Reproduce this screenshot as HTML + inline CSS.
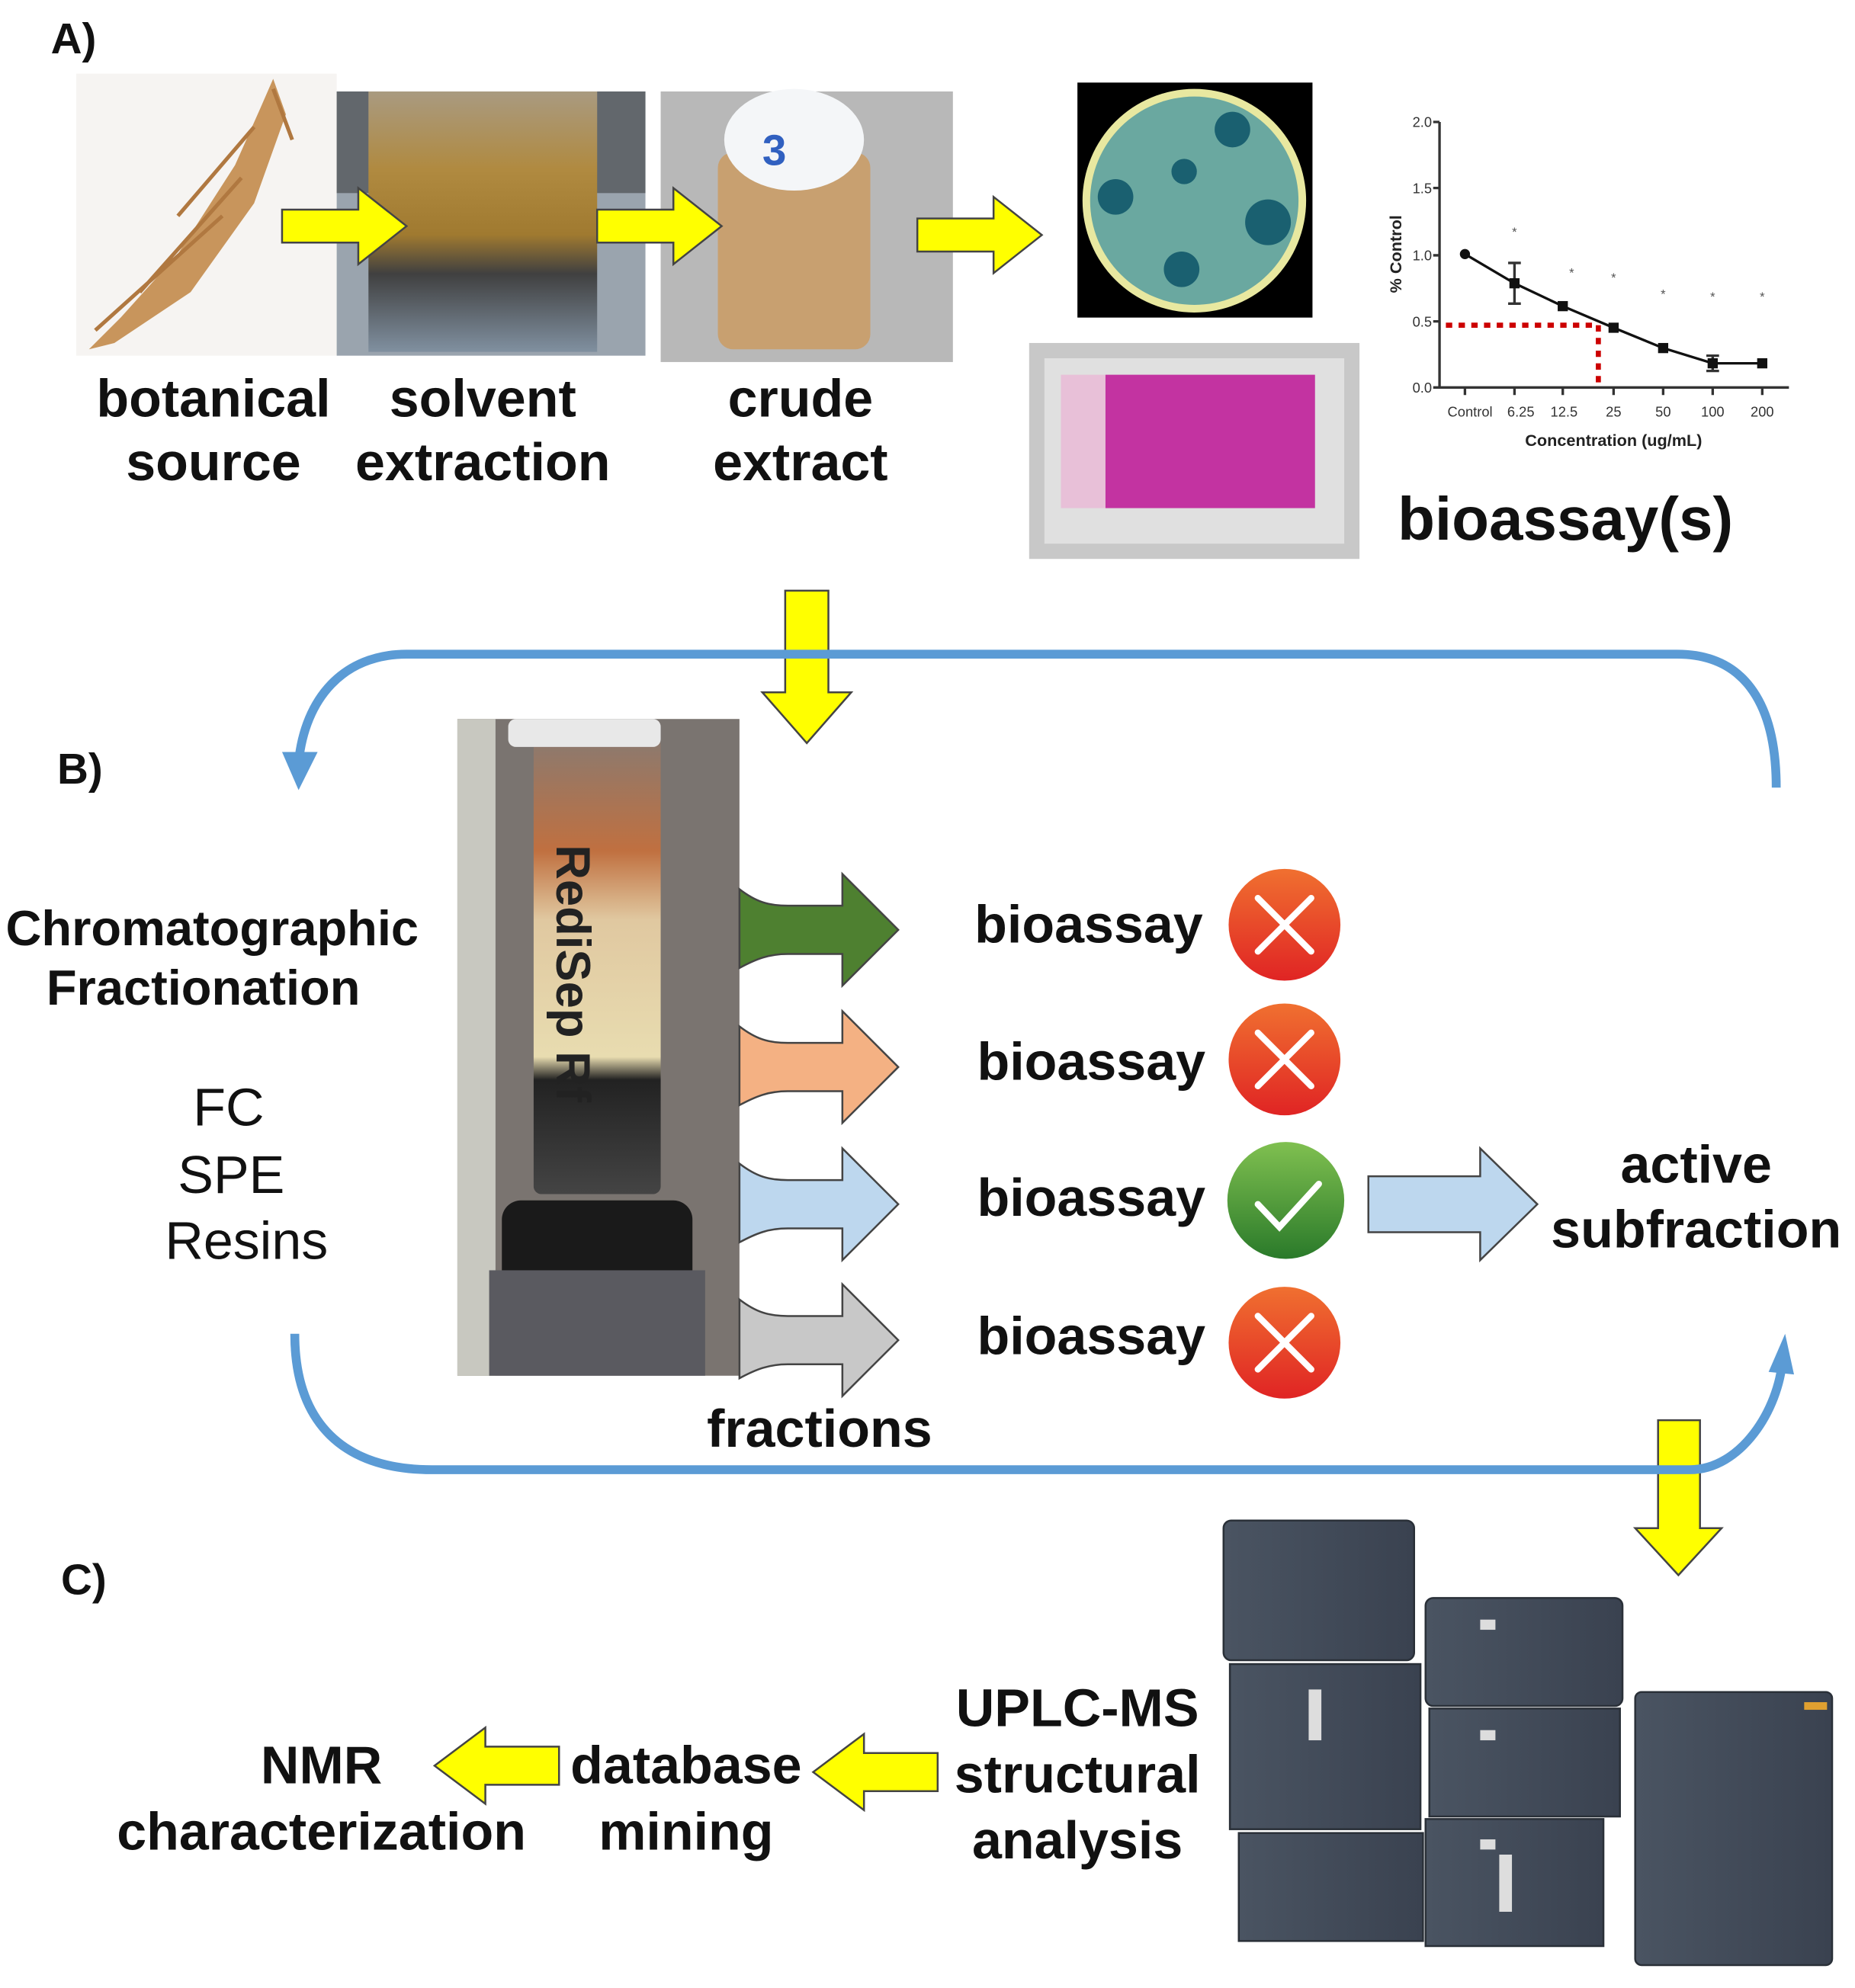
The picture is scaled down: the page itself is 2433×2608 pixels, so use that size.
<!DOCTYPE html>
<html><head><meta charset="utf-8"><style>
html,body{margin:0;padding:0;background:#fff;}
svg{display:block;}
text{font-family:"Liberation Sans",Arial,sans-serif;}
.b{font-weight:bold;fill:#111;}
</style></head><body>
<svg width="2433" height="2608" viewBox="0 0 1460 1565" xmlns="http://www.w3.org/2000/svg">
<defs>
<linearGradient id="red" x1="0" y1="0" x2="0" y2="1"><stop offset="0" stop-color="#f07030"/><stop offset="1" stop-color="#e02424"/></linearGradient>
<linearGradient id="grn" x1="0" y1="0" x2="0" y2="1"><stop offset="0" stop-color="#80c050"/><stop offset="1" stop-color="#2a7a2a"/></linearGradient>
<linearGradient id="amb" x1="0" y1="0" x2="0" y2="1"><stop offset="0" stop-color="#a99a80"/><stop offset="0.3" stop-color="#b08a40"/><stop offset="0.55" stop-color="#a07a30"/><stop offset="0.7" stop-color="#404040"/><stop offset="1" stop-color="#8090a0"/></linearGradient>
<linearGradient id="col" x1="0" y1="0" x2="0" y2="1"><stop offset="0" stop-color="#8a7a70"/><stop offset="0.25" stop-color="#c07040"/><stop offset="0.4" stop-color="#e0c8a0"/><stop offset="0.7" stop-color="#e8dcb0"/><stop offset="0.75" stop-color="#222"/><stop offset="1" stop-color="#444"/></linearGradient>
<linearGradient id="uplc" x1="0" y1="0" x2="1" y2="0"><stop offset="0" stop-color="#4a5462"/><stop offset="1" stop-color="#3a4250"/></linearGradient>
</defs>

<text x="40" y="42" class="b" font-size="34">A)</text>

<rect x="60" y="58" width="205" height="222" fill="#f6f4f2"/>
<path d="M215 62 L225 90 L200 160 L150 230 L90 270 L70 275 L95 250 L140 200 L185 130 L205 85 Z" fill="#c8955c"/>
<path d="M200 100 L140 170 M190 140 L110 230 M175 170 L75 260 M215 70 L230 110" stroke="#b07840" stroke-width="3" fill="none"/>

<rect x="265" y="72" width="243" height="208" fill="#9aa4ae"/>
<rect x="265" y="72" width="243" height="80" fill="#2a2a2a" opacity="0.5"/>
<rect x="290" y="72" width="180" height="205" fill="url(#amb)"/>

<rect x="520" y="72" width="230" height="213" fill="#b8b8b8"/>
<rect x="565" y="120" width="120" height="155" rx="12" fill="#c8a070"/>
<ellipse cx="625" cy="110" rx="55" ry="40" fill="#f4f6f8"/>
<text x="600" y="130" font-size="34" fill="#3060c0" font-weight="bold">3</text>

<g fill="#ffff00" stroke="#444" stroke-width="1.5">
<path d="M222 165 H282 V148 L320 178 L282 208 V191 H222 Z"/>
<path d="M470 165 H530 V148 L568 178 L530 208 V191 H470 Z"/>
<path d="M722 172 H782 V155 L820 185 L782 215 V198 H722 Z"/>
<path d="M618 465 H652 V545 H670 L635 585 L600 545 H618 Z"/>
<path d="M1305 1118 H1338 V1203 H1355 L1321 1240 L1287 1203 H1305 Z"/>
<path d="M738 1380 H680 V1365 L640 1395 L680 1425 V1410 H738 Z"/>
<path d="M440 1375 H382 V1360 L342 1390 L382 1420 V1405 H440 Z"/>
</g>

<rect x="848" y="65" width="185" height="185" fill="#000"/>
<circle cx="940" cy="158" r="88" fill="#e8e8a0"/>
<circle cx="940" cy="158" r="82" fill="#6aa8a0"/>
<g fill="#1a6070"><circle cx="970" cy="102" r="14"/><circle cx="878" cy="155" r="14"/><circle cx="998" cy="175" r="18"/><circle cx="930" cy="212" r="14"/><circle cx="932" cy="135" r="10"/></g>

<rect x="810" y="270" width="260" height="170" fill="#c8c8c8"/>
<rect x="822" y="282" width="236" height="146" fill="#e0e0e0"/>
<rect x="870" y="295" width="165" height="105" fill="#c0209a" opacity="0.9"/>
<rect x="835" y="295" width="35" height="105" fill="#e8c0d8"/>

<g stroke="#333" stroke-width="2" fill="none">
<path d="M1133 96 V305 H1408"/>
<path d="M1128 96 H1133 M1128 148 H1133 M1128 201 H1133 M1128 253 H1133 M1128 305 H1133"/>
<path d="M1153 305 V311 M1192 305 V311 M1230 305 V311 M1270 305 V311 M1309 305 V311 M1348 305 V311 M1387 305 V311"/>
<path d="M1153 200 L1192 223 L1230 241 L1270 258 L1309 274 L1348 286 L1387 286" stroke="#111"/>
<path d="M1192 207 V239 M1187 207 H1197 M1187 239 H1197 M1348 280 V292 M1343 280 H1353 M1343 292 H1353"/>
</g>
<g fill="#111"><circle cx="1153" cy="200" r="4"/><rect x="1188" y="219" width="8" height="8"/><rect x="1226" y="237" width="8" height="8"/><rect x="1266" y="254" width="8" height="8"/><rect x="1305" y="270" width="8" height="8"/><rect x="1344" y="282" width="8" height="8"/><rect x="1383" y="282" width="8" height="8"/></g>
<path d="M1138 256 H1258 V305" stroke="#cc0000" stroke-width="4" stroke-dasharray="5,5" fill="none"/>
<g font-size="10" fill="#555" text-anchor="middle"><text x="1192" y="186">*</text><text x="1237" y="218">*</text><text x="1270" y="222">*</text><text x="1309" y="235">*</text><text x="1348" y="237">*</text><text x="1387" y="237">*</text></g>
<g font-size="11" fill="#333" text-anchor="end"><text x="1127" y="100">2.0</text><text x="1127" y="152">1.5</text><text x="1127" y="205">1.0</text><text x="1127" y="257">0.5</text><text x="1127" y="309">0.0</text></g>
<g font-size="11" fill="#333" text-anchor="middle"><text x="1157" y="328">Control</text><text x="1197" y="328">6.25</text><text x="1231" y="328">12.5</text><text x="1270" y="328">25</text><text x="1309" y="328">50</text><text x="1348" y="328">100</text><text x="1387" y="328">200</text></g>
<text x="1270" y="351" font-size="13" font-weight="bold" fill="#222" text-anchor="middle">Concentration (ug/mL)</text>
<text transform="translate(1103 200) rotate(-90)" font-size="13" font-weight="bold" fill="#222" text-anchor="middle">% Control</text>

<g class="b" font-size="42" text-anchor="middle">
<text x="168" y="328">botanical</text><text x="168" y="378">source</text>
<text x="380" y="328">solvent</text><text x="380" y="378">extraction</text>
<text x="630" y="328">crude</text><text x="630" y="378">extract</text>
</g>
<text x="1100" y="425" class="b" font-size="48">bioassay(s)</text>

<g stroke="#5b9bd5" stroke-width="7" fill="none">
<path d="M1398 620 C1398 550 1370 515 1320 515 H320 C270 515 240 550 235 600"/>
<path d="M232 1050 C232 1120 270 1157 340 1157 H1330 C1370 1157 1400 1110 1403 1070"/>
</g>
<path d="M222 592 L235 622 L250 592 Z" fill="#5b9bd5"/>
<path d="M1392 1080 L1405 1050 L1412 1082 Z" fill="#5b9bd5"/>

<text x="45" y="617" class="b" font-size="34">B)</text>

<rect x="360" y="566" width="222" height="517" fill="#7a7470"/>
<rect x="360" y="566" width="30" height="517" fill="#c8c8c0"/>
<rect x="420" y="580" width="100" height="360" rx="6" fill="url(#col)"/>
<rect x="400" y="566" width="120" height="22" rx="6" fill="#e8e8e8"/>
<rect x="395" y="945" width="150" height="75" rx="15" fill="#1a1a1a"/>
<rect x="385" y="1000" width="170" height="83" fill="#5a5a60"/>
<text transform="translate(438 665) rotate(90)" font-size="38" font-weight="bold" fill="#222">RediSep Rf</text>

<g class="b" font-size="39" text-anchor="middle"><text x="167" y="744">Chromatographic</text><text x="160" y="791">Fractionation</text></g>
<g font-size="42" fill="#111" text-anchor="middle"><text x="180" y="886">FC</text><text x="182" y="939">SPE</text><text x="194" y="991">Resins</text></g>

<g stroke="#444" stroke-width="1.5">
<path d="M582 700 C595 710 605 713 620 713 H663 V688 L707 732 L663 776 V751 H620 C605 751 595 755 582 762 Z" fill="#4e8030"/>
<path d="M582 808 C595 818 605 821 620 821 H663 V796 L707 840 L663 884 V859 H620 C605 859 595 863 582 870 Z" fill="#f4b183"/>
<path d="M582 916 C595 926 605 929 620 929 H663 V904 L707 948 L663 992 V967 H620 C605 967 595 971 582 978 Z" fill="#bdd7ee"/>
<path d="M582 1023 C595 1033 605 1036 620 1036 H663 V1011 L707 1055 L663 1099 V1074 H620 C605 1074 595 1078 582 1085 Z" fill="#c8c8c8"/>
<path d="M1077 926 H1165 V904 L1210 948 L1165 992 V970 H1077 Z" fill="#bdd7ee"/>
</g>

<g class="b" font-size="42"><text x="767" y="742">bioassay</text><text x="769" y="850">bioassay</text><text x="769" y="957">bioassay</text><text x="769" y="1066">bioassay</text></g>

<g stroke="#fff" stroke-width="5" stroke-linecap="round">
<ellipse cx="1011" cy="728" rx="44" ry="44" fill="url(#red)" stroke="none"/>
<path d="M990 707 L1032 749 M1032 707 L990 749"/>
<ellipse cx="1011" cy="834" rx="44" ry="44" fill="url(#red)" stroke="none"/>
<path d="M990 813 L1032 855 M1032 813 L990 855"/>
<ellipse cx="1012" cy="945" rx="46" ry="46" fill="url(#grn)" stroke="none"/>
<path d="M990 948 L1007 966 L1038 932" fill="none"/>
<ellipse cx="1011" cy="1057" rx="44" ry="44" fill="url(#red)" stroke="none"/>
<path d="M990 1036 L1032 1078 M1032 1036 L990 1078"/>
</g>

<g class="b" font-size="42" text-anchor="middle"><text x="1335" y="931">active</text><text x="1335" y="982">subfraction</text></g>
<text x="645" y="1139" class="b" font-size="42" text-anchor="middle">fractions</text>

<text x="48" y="1255" class="b" font-size="34">C)</text>

<g fill="url(#uplc)" stroke="#2a3038" stroke-width="1.5">
<rect x="963" y="1197" width="150" height="110" rx="6"/>
<rect x="968" y="1310" width="150" height="130"/>
<rect x="975" y="1443" width="145" height="85"/>
<rect x="1122" y="1258" width="155" height="85" rx="6"/>
<rect x="1125" y="1345" width="150" height="85"/>
<rect x="1122" y="1432" width="140" height="100"/>
<rect x="1287" y="1332" width="155" height="215" rx="5"/>
</g>
<g fill="#ddd"><rect x="1165" y="1275" width="12" height="8"/><rect x="1165" y="1362" width="12" height="8"/><rect x="1165" y="1448" width="12" height="8"/><rect x="1030" y="1330" width="10" height="40"/><rect x="1180" y="1460" width="10" height="45"/></g>
<rect x="1420" y="1340" width="18" height="6" fill="#e0a030"/>

<g class="b" font-size="42" text-anchor="middle">
<text x="848" y="1359">UPLC-MS</text><text x="848" y="1411">structural</text><text x="848" y="1463">analysis</text>
<text x="540" y="1404">database</text><text x="540" y="1456">mining</text>
<text x="253" y="1404">NMR</text><text x="253" y="1456">characterization</text>
</g>
</svg>
</body></html>
